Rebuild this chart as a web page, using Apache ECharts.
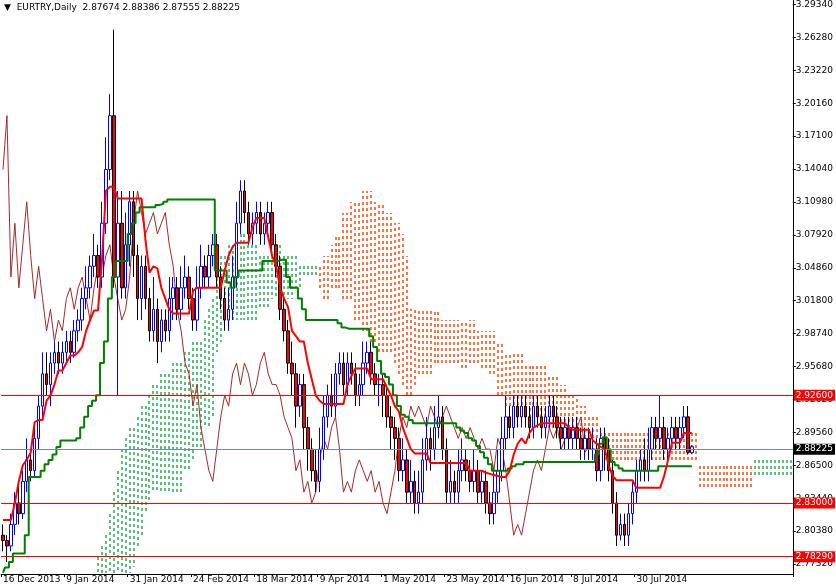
<!DOCTYPE html>
<html><head><meta charset="utf-8">
<script src="https://cdn.jsdelivr.net/npm/echarts@6/dist/echarts.min.js"></script>
<style>html,body{margin:0;padding:0;background:#fff}#c{width:836px;height:584px}</style>
</head><body><div id="c"></div>
<script>
"use strict";
// daily closes, first bar 16 Dec 2013 (open = previous close)
var closes = [2.795,2.79,2.81,2.83,2.82,2.85,2.87,2.86,2.89,2.92,
  2.95,2.94,2.96,2.97,2.96,2.97,2.98,2.97,2.99,3.00,
  3.02,3.03,3.05,3.06,3.04,3.09,3.14,3.19,3.04,3.09,
  3.03,3.07,3.11,3.06,3.02,3.05,3.02,2.99,3.01,2.98,
  3.00,2.99,3.02,3.03,3.01,3.03,3.04,3.02,3.00,3.03,
  3.05,3.04,3.06,3.07,3.04,3.02,3.00,3.01,3.04,3.09,
  3.12,3.10,3.08,3.09,3.10,3.08,3.09,3.10,3.07,3.05,
  3.01,2.99,2.96,2.95,2.92,2.94,2.90,2.88,2.86,2.85,
  2.88,2.91,2.93,2.92,2.95,2.96,2.94,2.96,2.95,2.93,
  2.94,2.96,2.97,2.95,2.94,2.94,2.93,2.91,2.90,2.89,
  2.86,2.87,2.84,2.85,2.83,2.84,2.87,2.89,2.88,2.90,
  2.91,2.88,2.84,2.85,2.84,2.86,2.87,2.86,2.85,2.86,
  2.84,2.85,2.83,2.82,2.84,2.86,2.89,2.91,2.90,2.92,
  2.91,2.92,2.91,2.90,2.92,2.91,2.90,2.91,2.92,2.91,
  2.90,2.89,2.90,2.89,2.90,2.89,2.88,2.89,2.88,2.88,
  2.86,2.89,2.88,2.86,2.83,2.80,2.81,2.80,2.82,2.84,
  2.86,2.87,2.86,2.88,2.90,2.89,2.90,2.88,2.89,2.90,
  2.89,2.90,2.91,2.877,2.88225];
var firstOpen = 2.80;
var highs = [2.81,2.80,2.82,2.84,2.85,2.86,2.89,2.88,2.90,2.93,
  2.97,2.97,2.97,2.98,2.98,2.98,2.99,2.99,3.00,3.01,
  3.03,3.05,3.06,3.08,3.07,3.11,3.17,3.21,3.27,3.12,
  3.12,3.10,3.12,3.12,3.07,3.06,3.06,3.03,3.04,3.02,
  3.01,3.01,3.04,3.04,3.04,3.05,3.06,3.05,3.03,3.05,
  3.07,3.06,3.07,3.08,3.08,3.05,3.03,3.03,3.06,3.11,
  3.13,3.13,3.11,3.10,3.11,3.11,3.10,3.11,3.11,3.08,
  3.06,3.02,3.00,2.98,2.96,2.95,2.95,2.91,2.89,2.88,
  2.90,2.93,2.94,2.95,2.96,2.97,2.97,2.97,2.97,2.96,
  2.95,2.98,2.98,2.98,2.96,2.95,2.95,2.94,2.92,2.91,
  2.90,2.89,2.88,2.87,2.86,2.86,2.89,2.91,2.90,2.92,
  2.93,2.92,2.89,2.87,2.86,2.88,2.89,2.88,2.87,2.88,
  2.87,2.86,2.86,2.84,2.86,2.88,2.91,2.93,2.92,2.93,
  2.93,2.93,2.93,2.92,2.93,2.93,2.92,2.92,2.93,2.93,
  2.92,2.91,2.91,2.91,2.91,2.91,2.90,2.90,2.90,2.90,
  2.89,2.90,2.90,2.89,2.87,2.84,2.82,2.82,2.83,2.85,
  2.87,2.88,2.89,2.90,2.91,2.91,2.93,2.91,2.90,2.91,
  2.91,2.91,2.92,2.92,2.88386];
var lows = [2.785,2.775,2.785,2.80,2.81,2.815,2.84,2.85,2.855,2.88,
  2.91,2.93,2.92,2.95,2.95,2.95,2.96,2.96,2.965,2.98,
  2.99,3.01,3.02,3.04,3.03,3.03,3.08,3.13,3.03,2.93,
  3.02,3.02,3.05,3.04,3.00,3.00,3.01,2.98,2.98,2.96,
  2.97,2.98,2.98,3.00,3.00,3.00,3.02,3.01,2.99,2.99,
  3.02,3.03,3.03,3.05,3.03,3.01,2.99,2.99,3.00,3.03,
  3.08,3.09,3.07,3.07,3.08,3.07,3.07,3.08,3.06,3.04,
  3.00,2.98,2.95,2.93,2.90,2.91,2.88,2.86,2.85,2.84,
  2.84,2.87,2.90,2.91,2.91,2.94,2.93,2.93,2.94,2.92,
  2.92,2.93,2.95,2.94,2.93,2.92,2.91,2.90,2.88,2.87,
  2.85,2.85,2.83,2.83,2.82,2.82,2.83,2.86,2.86,2.87,
  2.89,2.87,2.83,2.83,2.83,2.83,2.85,2.85,2.84,2.84,
  2.83,2.83,2.82,2.81,2.81,2.83,2.85,2.88,2.89,2.89,
  2.90,2.90,2.90,2.89,2.89,2.90,2.89,2.89,2.90,2.90,
  2.89,2.88,2.88,2.88,2.88,2.88,2.87,2.87,2.87,2.87,
  2.85,2.85,2.86,2.85,2.82,2.79,2.795,2.79,2.79,2.81,
  2.83,2.85,2.85,2.85,2.87,2.88,2.88,2.87,2.87,2.88,
  2.88,2.88,2.89,2.875,2.87555];
var tenkan = [2.814,2.814,2.814,2.83,2.85,2.865,2.87,2.877,2.905,2.907,
  2.907,2.925,2.93,2.94,2.953,2.953,2.96,2.967,2.967,2.97,
  2.975,2.99,3.0,3.009,3.009,3.055,3.12,3.124,3.124,3.113,
  3.113,3.113,3.113,3.113,3.113,3.113,3.074,3.044,3.05,3.048,
  3.03,3.02,3.01,3.006,3.006,3.006,3.006,3.006,3.027,3.03,
  3.03,3.03,3.03,3.03,3.03,3.03,3.046,3.06,3.068,3.072,
  3.072,3.072,3.072,3.086,3.095,3.095,3.095,3.077,3.06,3.05,
  3.03,3.02,3.012,2.99,2.985,2.98,2.98,2.96,2.945,2.93,
  2.925,2.922,2.922,2.922,2.922,2.922,2.922,2.94,2.948,2.955,
  2.955,2.955,2.955,2.945,2.945,2.945,2.945,2.937,2.93,2.92,
  2.915,2.90,2.89,2.88,2.876,2.876,2.876,2.876,2.867,2.867,
  2.867,2.867,2.867,2.867,2.867,2.867,2.867,2.867,2.86,2.86,
  2.86,2.86,2.858,2.857,2.856,2.855,2.854,2.854,2.86,2.875,
  2.885,2.89,2.885,2.895,2.90,2.902,2.904,2.904,2.904,2.904,
  2.904,2.904,2.904,2.90,2.898,2.898,2.898,2.898,2.898,2.888,
  2.885,2.882,2.88,2.865,2.855,2.851,2.851,2.851,2.851,2.851,
  2.844,2.844,2.844,2.844,2.844,2.844,2.844,2.855,2.87,2.886,
  2.886,2.886,2.895,2.895,2.895];
var kijun = [2.765,2.77,2.775,2.783,2.783,2.783,2.80,2.854,2.854,2.854,
  2.86,2.866,2.87,2.875,2.882,2.888,2.888,2.888,2.888,2.89,
  2.90,2.91,2.92,2.925,2.93,2.96,2.98,3.02,3.04,3.055,
  3.055,3.055,3.08,3.09,3.10,3.105,3.105,3.105,3.105,3.107,
  3.108,3.11,3.112,3.112,3.112,3.112,3.112,3.112,3.112,3.112,
  3.112,3.112,3.112,3.112,3.046,3.046,3.046,3.035,3.03,3.04,
  3.046,3.046,3.046,3.046,3.046,3.046,3.055,3.055,3.055,3.055,
  3.056,3.056,3.04,3.03,3.03,3.02,3.01,3.0,3.0,3.0,
  3.0,3.0,3.0,3.0,3.0,2.997,2.993,2.992,2.992,2.992,
  2.992,2.992,2.992,2.985,2.975,2.962,2.95,2.947,2.94,2.93,
  2.92,2.912,2.91,2.907,2.904,2.904,2.904,2.904,2.904,2.904,
  2.904,2.904,2.904,2.904,2.904,2.90,2.897,2.895,2.89,2.888,
  2.883,2.877,2.872,2.866,2.86,2.86,2.86,2.86,2.862,2.864,
  2.866,2.866,2.868,2.868,2.868,2.868,2.868,2.868,2.868,2.868,
  2.868,2.868,2.868,2.868,2.868,2.868,2.868,2.868,2.868,2.868,
  2.875,2.885,2.891,2.88,2.868,2.865,2.862,2.86,2.86,2.86,
  2.86,2.86,2.86,2.86,2.86,2.86,2.864,2.864,2.864,2.864,
  2.864,2.864,2.864,2.864,2.864];
// Senkou spans, index 0..199 (26 bars ahead of price)
var spanA = [null,null,null,null,null,null,null,null,null,null,null,null,null,null,null,null,null,null,null,null,null,null,null,null,
  2.78,2.79,2.80,2.82,2.84,2.86,2.88,2.89,2.90,
  2.90,2.91,2.92,2.92,2.93,
  2.94,2.94,2.95,2.95,2.95,2.96,2.96,2.96,
  2.97,2.97,2.98,2.98,2.98,
  3.00,3.01,3.02,
  3.05,3.06,3.06,
  3.07,3.07,3.08,3.08,3.08,3.07,
  3.07,3.07,3.06,3.06,3.06,3.06,3.07,3.07,3.06,3.06,
  3.06,3.06,3.05,3.05,3.05,3.05,3.05,
  3.03,
  3.02,3.02,3.03,3.03,3.03,
  3.02,3.02,3.02,
  3.00,3.00,2.99,2.99,2.98,2.98,2.97,2.97,2.97,
  2.97,2.96,2.95,2.94,2.93,
  2.93,2.94,2.95,2.95,2.95,2.95,2.96,2.96,
  2.96,2.96,2.96,2.96,2.96,2.955,2.955,2.96,2.96,2.96,2.955,2.955,2.95,2.95,
  2.93,2.93,2.92,2.92,2.91,2.91,2.91,2.91,2.91,2.91,2.91,2.91,2.91,
  2.90,2.90,2.90,2.90,2.90,2.90,2.90,2.89,2.89,2.89,2.89,2.89,2.89,
  2.87,2.87,2.87,2.87,2.87,2.87,2.87,2.87,2.87,2.87,2.87,2.87,2.87,2.87,2.87,2.87,2.87,2.87,2.87,2.87,2.87,2.87,2.87,2.87,2.87,
  2.845,2.845,2.845,2.845,2.845,2.845,2.845,2.845,2.845,2.845,2.845,2.845,2.845,2.845,
  2.87,2.87,2.87,2.87,2.87,2.87,2.87,2.87,2.87,2.87];
var spanB = [null,null,null,null,null,null,null,null,null,null,null,null,null,null,null,null,null,null,null,null,null,null,null,null,
  2.765,2.765,2.765,2.765,2.765,2.765,2.765,2.765,2.765,
  2.77,2.79,2.80,2.82,2.83,
  2.84,2.84,2.84,2.84,2.84,2.84,2.84,2.84,
  2.86,2.86,2.87,2.88,2.88,
  2.90,2.90,2.91,
  2.97,2.98,3.00,
  3.00,3.00,3.00,3.00,3.00,3.00,
  3.00,3.00,3.01,3.01,3.01,3.02,3.02,3.02,3.02,3.02,
  3.02,3.03,3.03,3.04,3.04,3.04,3.04,
  3.05,
  3.06,3.06,3.07,3.08,3.08,
  3.10,3.10,3.11,
  3.11,3.11,3.12,3.12,3.12,3.11,3.11,3.11,3.10,
  3.10,3.09,3.09,3.08,3.06,
  3.01,3.01,3.01,3.01,3.01,3.01,3.01,3.01,
  3.00,3.00,3.00,3.00,3.00,3.00,3.00,3.00,3.00,2.99,2.99,2.99,2.99,2.99,
  2.98,2.98,2.97,2.97,2.97,2.97,2.97,2.96,2.96,2.96,2.96,2.96,2.96,
  2.95,2.95,2.95,2.94,2.94,2.93,2.93,2.93,2.92,2.92,2.91,2.91,2.91,
  2.895,2.895,2.895,2.895,2.895,2.895,2.895,2.895,2.895,2.895,2.895,2.895,2.895,2.895,2.895,2.895,2.895,2.895,2.895,2.895,2.895,2.895,2.895,2.895,2.895,
  2.865,2.865,2.865,2.865,2.865,2.865,2.865,2.865,2.865,2.865,2.865,2.865,2.865,2.865,
  2.855,2.855,2.855,2.855,2.855,2.855,2.855,2.855,2.855,2.855];
var dateLabels = {0:"16 Dec 2013",16:"9 Jan 2014",32:"31 Jan 2014",48:"24 Feb 2014",64:"18 Mar 2014",
  80:"9 Apr 2014",96:"1 May 2014",112:"23 May 2014",128:"16 Jun 2014",144:"8 Jul 2014",160:"30 Jul 2014"};
var priceTicks = [2.7732,2.8038,2.8344,2.865,2.8956,2.9262,2.9568,2.9874,3.018,3.0486,3.0792,3.1098,3.1404,3.171,3.2016,3.2322,3.2628,3.2934];
var levels = [2.926, 2.83, 2.7829];
var lastPrice = 2.88225;
var nCat = 200;

var cats = [], candles = [], chikou = [], cloud = [];
for (var i = 0; i < nCat; i++) cats.push(String(i));
for (i = 0; i < closes.length; i++) {
    var o = i ? closes[i - 1] : firstOpen;
    if (i === closes.length - 1) o = 2.87674;
    candles.push([o, closes[i], lows[i], highs[i]]);
}
for (i = 0; i + 26 < closes.length; i++) chikou.push(closes[i + 26]);
for (i = 0; i < nCat; i++) if (spanA[i] != null) cloud.push([i, spanA[i], spanB[i]]);

var chart = echarts.init(document.getElementById("c"));
var lvlLines = levels.map(function(v) {
    return { yAxis: v, lineStyle: { color: "#ff0000", width: 1.2, type: "solid", opacity: 1 },
        label: { backgroundColor: "#ff0000", color: "#fff", formatter: v.toFixed(5) } };
});
lvlLines.push({ yAxis: lastPrice, lineStyle: { color: "#778899", width: 1, type: "solid", opacity: 1 },
    label: { backgroundColor: "#000", color: "#fff", formatter: lastPrice.toFixed(5) } });

chart.setOption({
    animation: false,
    backgroundColor: "#fff",
    textStyle: { fontFamily: "DejaVu Sans" },
    grid: { left: 0, right: 40, top: 0, bottom: 10 },
    graphic: [{ type: "text", left: 4, top: 3,
        style: { text: "\u25bc  EURTRY,Daily  2.87674 2.88386 2.87555 2.88225", fill: "#000", font: "9px DejaVu Sans" } }],
    xAxis: {
        type: "category", data: cats, boundaryGap: true,
        axisLine: { lineStyle: { color: "#000" } },
        axisTick: { show: true, interval: function(idx) { return dateLabels[idx] !== undefined; }, length: 3, lineStyle: { color: "#000" } },
        axisLabel: { interval: 0, fontSize: 9, color: "#000", margin: 1, align: "left",
            formatter: function(v, idx) { return dateLabels[idx] || ""; } },
        splitLine: { show: false }
    },
    yAxis: {
        type: "value", position: "right", min: 2.7639, max: 3.2971, scale: true,
        axisLine: { show: true, lineStyle: { color: "#000" } },
        axisTick: { show: true, customValues: priceTicks, length: 3, lineStyle: { color: "#000" } },
        axisLabel: { customValues: priceTicks, fontSize: 9, color: "#000", margin: 3,
            formatter: function(v) { return v.toFixed(5); } },
        splitLine: { show: false }
    },
    series: [
        { type: "custom", name: "cloud", data: cloud, z: 1,
            renderItem: function(params, api) {
                var a = api.coord([api.value(0), api.value(1)]);
                var b = api.coord([api.value(0), api.value(2)]);
                var x = Math.round(a[0]);
                return { type: "line", shape: { x1: x, y1: Math.round(a[1]), x2: x, y2: Math.round(b[1]) },
                    style: { stroke: api.value(1) >= api.value(2) ? "#1fb050" : "#ff4500", lineWidth: 1.5, lineDash: [3, 3] } };
            } },
        { type: "line", name: "levels", data: [], z: 2,
            markLine: { symbol: "none", silent: true, data: lvlLines,
                label: { position: "end", fontSize: 9, padding: [1, 2], distance: 1 } } },
        { type: "line", name: "chikou", data: chikou, symbol: "none", z: 2,
            lineStyle: { color: "#a52a2a", width: 1 } },
        { type: "candlestick", name: "EURTRY", data: candles, barWidth: 3, z: 3,
            itemStyle: { color: "#ffffff", color0: "#ff0000", borderColor: "#0000ff", borderColor0: "#000000", borderWidth: 1 } },
        { type: "line", name: "kijun", data: kijun, symbol: "none", step: "middle", z: 4,
            lineStyle: { color: "#008000", width: 2 } },
        { type: "line", name: "tenkan", data: tenkan, symbol: "none", z: 5,
            lineStyle: { color: "#ff0000", width: 2 } }
    ]
});
</script></body></html>
